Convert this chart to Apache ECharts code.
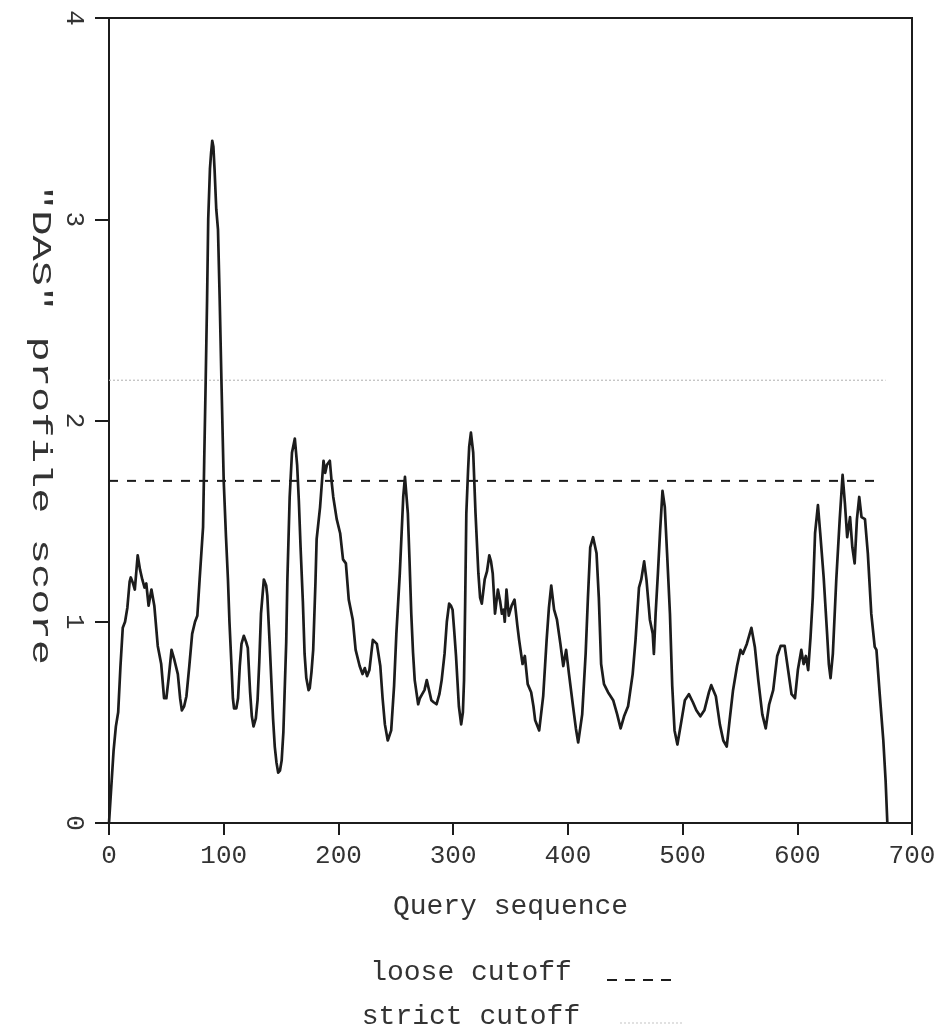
<!DOCTYPE html>
<html>
<head>
<meta charset="utf-8">
<script src="https://cdn.jsdelivr.net/npm/echarts@6/dist/echarts.min.js"></script>
<style>
  html, body { margin: 0; padding: 0; background: #ffffff; }
  #chart { width: 941px; height: 1028px; }
</style>
</head>
<body>
<div id="chart"></div>
<script>
// Residue positions along the query sequence
const seqPos = [
  0, 2, 4, 6, 8, 10, 12, 14, 16, 18, 19, 21, 22.5, 25, 27, 29, 31, 32.5, 34.5, 37, 39.5,
  42.5, 45.5, 48, 50, 52, 54.5, 57, 60, 62, 63.5, 65.5, 67.5, 70, 72.5, 75, 77, 79, 82, 83,
  84.3, 85.5, 86.5, 88, 89, 90, 91, 92, 93.5, 95, 96.5, 98, 100, 102, 103.7, 105, 106.7, 108,
  109, 111, 112.5, 114, 115.5, 117.5, 119.5, 121, 123, 124.5, 126, 128, 129.5, 131, 132.5,
  135, 137, 138, 140, 141.5, 143, 144.5, 146, 147.5, 149, 150.5, 152, 153, 154.5, 155.5,
  157.5, 159.5, 162, 164, 165.5, 167, 169, 170.5, 172, 174, 175, 176.5, 178, 180, 181, 184,
  187, 188.5, 190, 192.5, 194, 195.5, 198.5, 201.5, 204, 206.5, 209, 212.5, 215, 218.5, 221,
  223, 225, 227, 230, 233.5, 236.5, 238.5, 240.5, 243, 246, 248.5, 250.5, 253.5, 256.5, 258,
  260.5, 262, 263.5, 265, 266.5, 269.5, 271, 273, 275, 277, 279, 281, 283, 285.5, 288, 290,
  292.5, 294.5, 296.5, 298, 299.5, 301, 302.5, 305, 307, 308.5, 309.5, 310.5, 311.5, 313,
  314, 315.5, 317.5, 319.5, 322, 323.5, 325, 327.5, 329.5, 331.5, 333, 334.5, 336.5, 339,
  341, 342.5, 344, 345, 346.5, 348.5, 351, 353.5, 356, 357.5, 360.5, 362.5, 365, 368, 370,
  371.5, 375, 378.5, 381.5, 383.5, 385.5, 388, 390.5, 393.5, 396, 398.5, 401, 404.5, 407,
  409, 412.5, 415.5, 417.5, 419.5, 422, 425, 427, 429, 431.5, 435, 439.5, 443, 446, 449,
  452.5, 456.5, 459, 462, 464, 466.5, 468.5, 471.5, 474, 475, 476.5, 478.5, 480.5, 482.5,
  484.5, 486.5, 489, 491, 493, 495.5, 498.5, 502, 505.5, 509, 512, 515.5, 519, 523, 525,
  529, 532.5, 535.5, 538.5, 541, 544, 547.5, 550.5, 552.5, 556, 560, 563, 566, 569.5, 572.5,
  575.5, 579, 582.5, 585.5, 589, 592, 595, 598, 600.5, 603.5, 605.5, 607.5, 609.5, 611.5,
  613.5, 615.5, 618, 620, 623, 626, 627.5, 629, 631, 634, 637, 639.5, 641.5, 643.5, 646,
  648, 650, 652, 654, 656, 659, 661.5, 664.5, 667.5, 669, 672, 675, 677, 678.5
];

// "DAS" profile score at each position
const dasScore = [
  0, 0.18, 0.36, 0.48, 0.55, 0.78, 0.97, 1.0, 1.07, 1.2, 1.22, 1.19, 1.16, 1.33, 1.26, 1.21,
  1.17, 1.19, 1.08, 1.16, 1.08, 0.88, 0.79, 0.62, 0.62, 0.72, 0.86, 0.81, 0.74, 0.62, 0.56,
  0.58, 0.63, 0.78, 0.94, 1.0, 1.03, 1.21, 1.47, 1.8, 2.2, 2.6, 3.0, 3.25, 3.33, 3.39, 3.36,
  3.25, 3.05, 2.95, 2.6, 2.2, 1.7, 1.42, 1.21, 1.0, 0.79, 0.62, 0.57, 0.57, 0.62, 0.78, 0.89,
  0.93, 0.9, 0.87, 0.65, 0.53, 0.48, 0.52, 0.61, 0.8, 1.04, 1.21, 1.18, 1.13, 0.9, 0.71,
  0.52, 0.38, 0.3, 0.25, 0.26, 0.31, 0.45, 0.63, 0.9, 1.21, 1.62, 1.84, 1.91, 1.78, 1.6,
  1.37, 1.1, 0.84, 0.72, 0.66, 0.67, 0.75, 0.86, 1.2, 1.41, 1.57, 1.80, 1.74, 1.78, 1.80,
  1.7, 1.62, 1.51, 1.44, 1.31, 1.29, 1.11, 1.01, 0.86, 0.78, 0.74, 0.77, 0.73, 0.76, 0.91,
  0.89, 0.78, 0.62, 0.49, 0.41, 0.46, 0.68, 0.94, 1.24, 1.62, 1.72, 1.54, 1.3, 1.04, 0.85,
  0.71, 0.59, 0.62, 0.64, 0.66, 0.71, 0.66, 0.61, 0.6, 0.59, 0.64, 0.71, 0.84, 1.0, 1.09,
  1.08, 1.06, 0.95, 0.83, 0.58, 0.49, 0.55, 0.71, 1.1, 1.54, 1.75, 1.87, 1.94, 1.84, 1.54,
  1.24, 1.12, 1.09, 1.21, 1.25, 1.33, 1.3, 1.24, 1.04, 1.16, 1.1, 1.04, 1.06, 1.0, 1.16,
  1.03, 1.08, 1.11, 0.98, 0.91, 0.79, 0.83, 0.69, 0.65, 0.58, 0.51, 0.46, 0.63, 0.91, 1.07,
  1.18, 1.06, 1.01, 0.89, 0.78, 0.86, 0.74, 0.58, 0.47, 0.40, 0.54, 0.84, 1.12, 1.37, 1.42,
  1.34, 1.12, 0.79, 0.69, 0.65, 0.61, 0.54, 0.47, 0.53, 0.58, 0.74, 0.91, 1.17, 1.21, 1.30,
  1.21, 1.01, 0.94, 0.84, 1.04, 1.24, 1.46, 1.65, 1.57, 1.34, 1.04, 0.68, 0.46, 0.39, 0.49,
  0.61, 0.64, 0.6, 0.56, 0.53, 0.56, 0.65, 0.685, 0.63, 0.49, 0.41, 0.38, 0.51, 0.66, 0.78,
  0.86, 0.84, 0.89, 0.97, 0.875, 0.71, 0.54, 0.47, 0.59, 0.66, 0.83, 0.88, 0.88, 0.76, 0.64,
  0.62, 0.76, 0.86, 0.79, 0.83, 0.76, 0.92, 1.12, 1.44, 1.58, 1.44, 1.22, 0.94, 0.79, 0.72,
  0.84, 1.21, 1.51, 1.73, 1.59, 1.42, 1.52, 1.37, 1.29, 1.51, 1.62, 1.52, 1.51, 1.34, 1.04,
  0.875, 0.86, 0.63, 0.41, 0.21, 0
];

// Cutoff levels and the span each cutoff line covers
const looseCutoff = 1.7;
const strictCutoff = 2.2;
const looseSpan = [0, 672];
const strictSpan = [0, 677];

// Axis tick labels
const xTicks = [0, 100, 200, 300, 400, 500, 600, 700];
const yTicks = [0, 1, 2, 3, 4];

const MONO = '"Liberation Mono", "DejaVu Sans Mono", monospace';
const INK = '#1c1c1c';

const profile = seqPos.map((p, i) => [p, dasScore[i]]);

const chart = echarts.init(document.getElementById('chart'), null, { renderer: 'canvas' });

chart.setOption({
  animation: false,
  backgroundColor: '#ffffff',
  grid: {
    left: 109, right: 29, top: 18, bottom: 205,
    show: true, borderColor: INK, borderWidth: 2, backgroundColor: 'transparent'
  },
  xAxis: {
    type: 'value',
    min: xTicks[0], max: xTicks[xTicks.length - 1], interval: 100,
    name: 'Query sequence',
    nameLocation: 'middle',
    nameGap: 70,
    nameTextStyle: { fontFamily: MONO, fontSize: 28, color: '#333' },
    axisLine: { show: true, lineStyle: { color: INK, width: 2 } },
    axisTick: { show: true, inside: false, length: 12, lineStyle: { color: INK, width: 2 } },
    axisLabel: { fontFamily: MONO, fontSize: 26, color: '#333', margin: 20 },
    splitLine: { show: false }
  },
  yAxis: {
    type: 'value',
    min: yTicks[0], max: yTicks[yTicks.length - 1], interval: 1,
    axisLine: { show: true, lineStyle: { color: INK, width: 2 } },
    axisTick: { show: true, inside: false, length: 14, lineStyle: { color: INK, width: 2 } },
    axisLabel: { fontFamily: MONO, fontSize: 26, color: '#333', margin: 22, rotate: -90 },
    splitLine: { show: false }
  },
  series: [
    {
      name: 'strict cutoff',
      type: 'line',
      symbol: 'none',
      silent: true,
      data: strictSpan.map(p => [p, strictCutoff]),
      lineStyle: { color: '#bdbdbd', width: 1.2, type: [2, 2] },
      z: 1
    },
    {
      name: 'loose cutoff',
      type: 'line',
      symbol: 'none',
      silent: true,
      data: looseSpan.map(p => [p, looseCutoff]),
      lineStyle: { color: INK, width: 2, type: [9, 9] },
      z: 2
    },
    {
      name: 'profile',
      type: 'line',
      symbol: 'none',
      smooth: false,
      data: profile,
      lineStyle: { color: INK, width: 2.7, join: 'round' },
      z: 3
    }
  ],
  graphic: [
    {
      type: 'text',
      x: 40, y: 425,
      rotation: -Math.PI / 2,
      scaleX: 1.56,
      style: {
        text: '"DAS" profile score',
        font: '27px ' + MONO,
        fill: '#333',
        textAlign: 'center',
        textVerticalAlign: 'middle'
      }
    },
    {
      type: 'text',
      x: 471, y: 973,
      style: {
        text: 'loose cutoff',
        font: '28px ' + MONO,
        fill: '#333',
        textAlign: 'center',
        textVerticalAlign: 'middle'
      }
    },
    {
      type: 'text',
      x: 471, y: 1017,
      style: {
        text: 'strict cutoff',
        font: '28px ' + MONO,
        fill: '#333',
        textAlign: 'center',
        textVerticalAlign: 'middle'
      }
    },
    {
      type: 'line',
      shape: { x1: 607, y1: 980, x2: 674, y2: 980 },
      style: { stroke: INK, lineWidth: 2, lineDash: [10, 8] }
    },
    {
      type: 'line',
      shape: { x1: 620, y1: 1023, x2: 684, y2: 1023 },
      style: { stroke: '#c4c4c4', lineWidth: 1, lineDash: [2, 2] }
    }
  ]
});
</script>
</body>
</html>
